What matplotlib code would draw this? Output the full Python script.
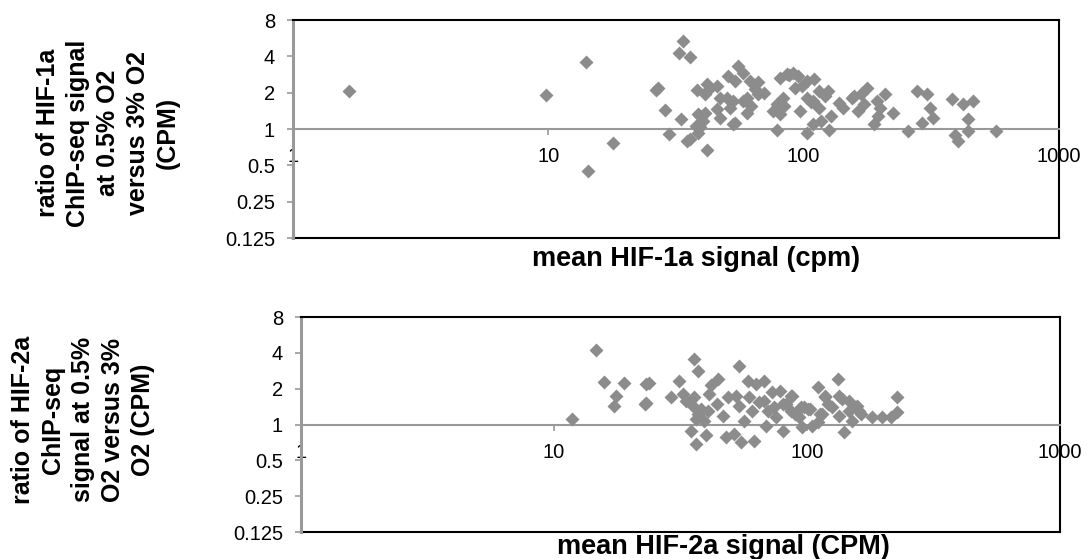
import matplotlib
matplotlib.use('Agg')
import matplotlib.pyplot as plt

plt.rcParams['font.family'] = ['Liberation Sans', 'DejaVu Sans']

x_ticks = [1, 10, 100, 1000]
x_tick_labels = ['1', '10', '100', '1000']
y_ticks = [0.125, 0.25, 0.5, 1, 2, 4, 8]
y_tick_labels = ['0.125', '0.25', '0.5', '1', '2', '4', '8']

# HIF-1a: mean signal (cpm) and ratio 0.5% / 3% O2
hif1_signal = [1.65, 9.8, 14, 18, 14.3, 26.5, 26.8, 33.6, 32.6, 35.9, 28.6, 29.8, 33, 34.8,
               35.9, 41.7, 38.1, 41.7, 45.7, 42.5, 38.7, 40.2, 39.3, 38.5, 41.1, 45.7, 47.1,
               47.1, 50.7, 53.8, 55.5, 57.8, 49.9, 53, 51.5, 53.8, 59.8, 59.8, 61.7, 64.3,
               66.1, 66.1, 57.8, 78.4, 76, 80.8, 78.4, 83.2, 80.8, 85.9, 91.2, 95.4, 92.6,
               98.2, 103, 110, 96.6, 103, 103, 109, 115, 121, 125, 109, 117, 126, 128, 137,
               154, 164, 177, 168, 189, 193, 200, 209, 196, 224, 257, 277, 303, 313, 322,
               290, 380, 422, 462, 442, 442, 392, 404, 567, 41.1, 39.3, 53, 38, 84, 88,
               115, 107, 142, 157, 172, 62, 70]
hif1_ratio = [2.05, 1.9, 3.6, 0.77, 0.45, 2.1, 2.2, 5.4, 4.3, 3.95, 1.43, 0.91, 1.2, 0.8,
              0.82, 0.67, 2.09, 2.35, 2.27, 2.15, 1.32, 1.16, 1.03, 0.93, 1.36, 1.46, 1.24,
              1.82, 2.75, 2.5, 3.33, 2.93, 1.82, 1.7, 1.5, 1.13, 1.36, 1.82, 2.5, 2.13,
              2.43, 1.94, 1.7, 0.99, 1.41, 1.32, 1.6, 1.82, 2.66, 2.84, 2.93, 2.75, 2.2,
              2.27, 2.5, 2.58, 1.41, 0.93, 1.82, 1.7, 1.5, 1.88, 2.07, 1.09, 1.16, 0.99,
              1.28, 1.65, 1.82, 1.41, 2.2, 1.94, 1.09, 1.7, 1.5, 1.94, 1.28, 1.36, 0.96,
              2.07, 1.94, 1.5, 1.24, 1.13, 1.76, 1.6, 1.7, 1.2, 0.96, 0.9, 0.8, 0.96, 1.94,
              1.28, 1.09, 1.06, 1.55, 2.8, 2.05, 1.68, 1.5, 1.88, 1.6, 1.55, 2.0]

# HIF-2a: mean signal (CPM) and ratio 0.5% / 3% O2
hif2_signal = [11.8, 14.6, 15.8, 18.9, 17.6, 17.2, 23, 23.8, 23.1, 22.8, 29, 31.3, 35.8,
               36.9, 32.2, 33.2, 35.3, 36.9, 34.8, 36.4, 39.2, 39.8, 38.2, 41, 41.7, 44.3,
               46.4, 48.5, 47.9, 51.5, 54.7, 61.8, 53.9, 52.4, 53.9, 56.4, 58.2, 62.8, 67.7,
               60.6, 59, 64.5, 69.9, 68.8, 73, 78.5, 75.3, 80, 82.4, 87.5, 90, 95.8, 97.1,
               103, 105, 110, 115, 118, 126, 134, 133, 134, 140, 146, 150, 158, 163, 181,
               198, 214, 227, 227, 35.8, 36.4, 40.5, 44, 67.7, 74, 80, 86.8, 94.5, 101, 93,
               121, 113, 146, 160, 138, 110, 86.8, 118]
hif2_ratio = [1.12, 4.25, 2.27, 2.24, 1.72, 1.42, 1.51, 2.23, 2.17, 1.49, 1.7, 2.34, 3.57,
              2.84, 1.81, 1.59, 1.44, 1.23, 0.89, 0.69, 1.08, 0.81, 1.36, 1.81, 2.13, 2.42,
              1.19, 1.7, 0.78, 0.84, 0.71, 0.73, 3.13, 1.75, 1.44, 1.08, 2.34, 2.2, 2.34,
              1.31, 1.7, 1.54, 1.31, 0.98, 1.87, 1.93, 1.15, 0.89, 1.49, 1.75, 1.23, 0.95,
              1.4, 1.36, 0.98, 2.06, 1.23, 1.7, 1.4, 1.75, 2.42, 1.19, 0.86, 1.59, 1.08,
              1.44, 1.23, 1.15, 1.15, 1.15, 1.27, 1.7, 1.7, 1.12, 1.3, 1.5, 1.59, 1.4, 1.49,
              1.31, 1.4, 1.36, 1.15, 1.49, 1.23, 1.31, 1.31, 1.65, 1.05, 1.75, 1.75]

gray = '#8c8c8c'
axis_gray = '#999999'


def draw_panel(ax, xs, ys):
    ax.plot(xs, ys, ls='none', marker='D', ms=7, color=gray, mec='none',
            zorder=3, clip_on=False)
    ax.set_xscale('log')
    ax.set_yscale('log', base=2)
    ax.set_xlim(1, 1000)
    ax.set_ylim(0.125, 8)
    ax.set_xticks(x_ticks, x_tick_labels)
    ax.set_yticks(y_ticks, y_tick_labels)
    ax.minorticks_off()
    # x axis crosses at ratio = 1
    ax.spines['bottom'].set_position(('data', 1))
    ax.spines['bottom'].set_color(axis_gray)
    ax.spines['bottom'].set_linewidth(1.5)
    ax.spines['left'].set_color(axis_gray)
    ax.spines['left'].set_linewidth(2.2)
    for s in ('top', 'right'):
        ax.spines[s].set_color('black')
        ax.spines[s].set_linewidth(1.5)
    ax.axhline(0.125, color='black', lw=1.5, clip_on=False, zorder=2)
    ax.tick_params(axis='x', direction='out', length=4, width=1.2, color=axis_gray,
                   pad=9, labelsize=14.5)
    ax.tick_params(axis='y', direction='out', length=4, width=1.2, color=axis_gray,
                   pad=9, labelsize=14.5)


fig = plt.figure(figsize=(10.88, 5.59), dpi=100)
ax1 = fig.add_axes([0.2693, 0.5742, 0.704, 0.39])
ax2 = fig.add_axes([0.2767, 0.0483, 0.6976, 0.3846])

draw_panel(ax1, hif1_signal, hif1_ratio)
draw_panel(ax2, hif2_signal, hif2_ratio)

fig.text(0.64, 0.537, 'mean HIF-1a signal (cpm)', ha='center', va='center',
         fontsize=19.5, fontweight='bold')
fig.text(0.6645, 0.021, 'mean HIF-2a signal (CPM)', ha='center', va='center',
         fontsize=19.5, fontweight='bold')

fig.text(0.0993, 0.762, 'ratio of HIF-1a\nChIP-seq signal\nat 0.5% O2\nversus 3% O2\n(CPM)',
         rotation=90, ha='center', va='center', multialignment='center',
         fontsize=18, fontweight='bold', linespacing=1.32)
fig.text(0.0763, 0.249, 'ratio of HIF-2a\nChIP-seq\nsignal at 0.5%\nO2 versus 3%\nO2 (CPM)',
         rotation=90, ha='center', va='center', multialignment='center',
         fontsize=18, fontweight='bold', linespacing=1.32)

fig.savefig('out.png', dpi=100)
